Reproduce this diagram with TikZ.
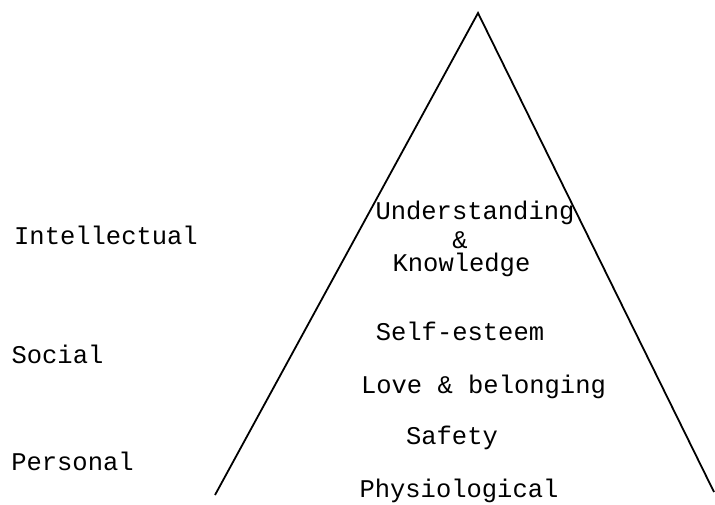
\documentclass[tikz,border=0pt]{standalone}
\usepackage{fontspec}
\setmonofont{Liberation Mono}
\begin{document}
\begin{tikzpicture}[x=1pt,y=-1pt,
  lbl/.style={font=\ttfamily\fontsize{25.5}{30}\selectfont, inner sep=0pt, anchor=base},
  edge/.style={line width=1.8pt, line join=miter}]
\useasboundingbox (0,0) rectangle (715,505);
\coordinate (apex) at (478,13);
\coordinate (bl) at (215,495);
\coordinate (br) at (714,492);
\draw[edge] (bl) -- (apex) -- (br);
\node[lbl] (intel) at (106,245) {Intellectual};
\node[lbl] (soc) at (57.5,363) {Social};
\node[lbl] (pers) at (72.5,470) {Personal};
\node[lbl] (und) at (475,220) {Understanding};
\node[lbl] (amp) at (460,248) {\&};
\node[lbl] (know) at (461.5,272) {Knowledge};
\node[lbl] (self) at (460,340) {Self-esteem};
\node[lbl] (love) at (483.5,393) {Love \& belonging};
\node[lbl] (safe) at (452,444) {Safety};
\node[lbl] (phys) at (459,497) {Physiological};
\end{tikzpicture}
\end{document}
